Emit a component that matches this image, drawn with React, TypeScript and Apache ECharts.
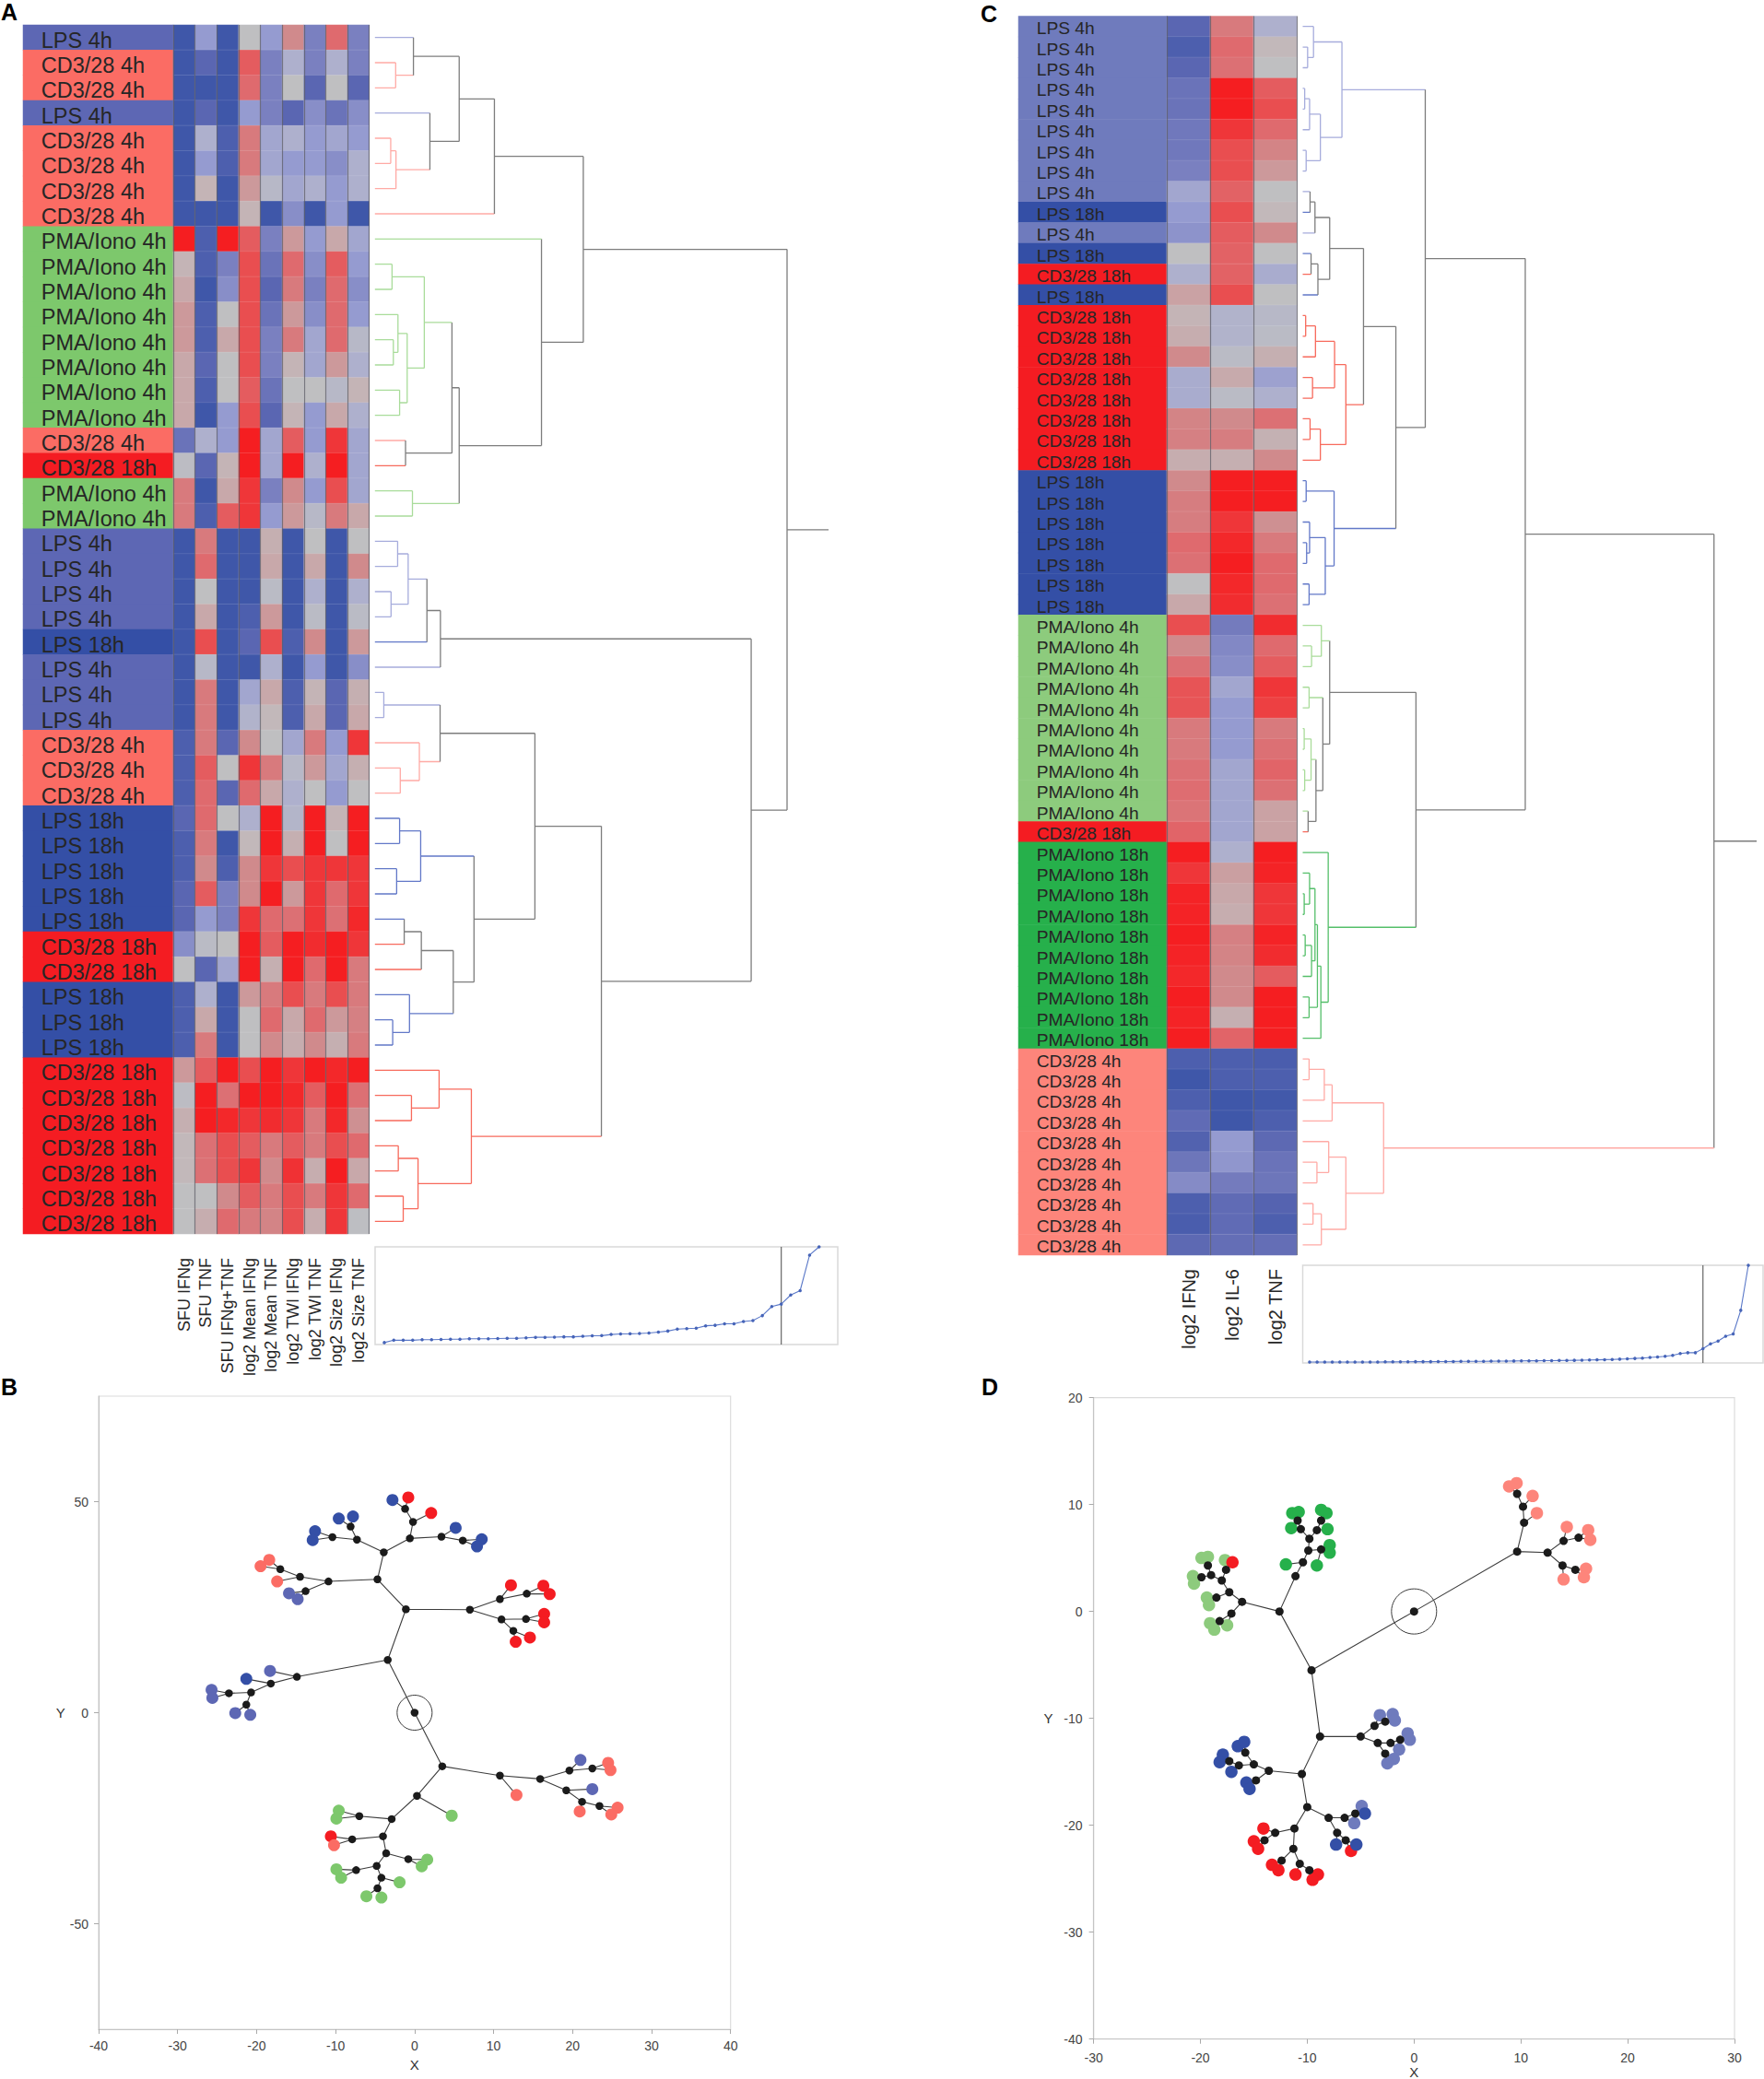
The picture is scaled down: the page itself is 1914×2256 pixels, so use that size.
import React, { useEffect, useRef } from "react";
import * as echarts from "echarts";

const FONT = "Liberation Sans";

const groupNames: Record<string, string> = {
  L4: "LPS 4h", L18: "LPS 18h", C4: "CD3/28 4h", C18: "CD3/28 18h", P4: "PMA/Iono 4h", P18: "PMA/Iono 18h",
};
const groupOrder = ["L4", "L18", "C4", "C18", "P4", "P18"];
const paletteAB: Record<string, string> = { L4: "#5d67b4", L18: "#344fa6", C4: "#fb6c64", C18: "#f41c22", P4: "#7dc86c", P18: "#2bb04c" };
const paletteCD: Record<string, string> = { L4: "#6f7bbd", L18: "#344fa6", C4: "#fd857b", C18: "#f41c22", P4: "#8dcb7d", P18: "#26b04b" };
const dendroColors: Record<string, string> = { L4: "#a6acdc", L18: "#6278c8", C4: "#ffaaa5", C18: "#f76a5c", P4: "#a9dc9a", P18: "#55bf6a", mix: "#7d7d7d" };
const heatColors = ["#3f57a9", "#5a66b2", "#7a80c0", "#959bd0", "#aeb0cd", "#bfbfc1", "#c8a8aa", "#d08a8c", "#df6a6e", "#e94e50", "#f51e21"];

const aColumns = ["SFU IFNg", "SFU TNF", "SFU IFNg+TNF", "log2 Mean IFNg", "log2 Mean TNF", "log2 TWI IFNg", "log2 TWI TNF", "log2 Size IFNg", "log2 Size TNF"];
const aRows = ["L4","C4","C4","L4","C4","C4","C4","C4","P4","P4","P4","P4","P4","P4","P4","P4","C4","C18","P4","P4","L4","L4","L4","L4","L18","L4","L4","L4","C4","C4","C4","L18","L18","L18","L18","L18","C18","C18","L18","L18","L18","C18","C18","C18","C18","C18","C18","C18"];
const aValues = [
  [-5,-2,-5,0,-2,2,-3,3,-3],
  [-5,-4,-5,3.5,-3,-1,-3,-1,-3],
  [-5,-5,-5,3,-3,0,-4,0,-4],
  [-5,-4,-5,-2,-3,-4,-2.5,-3.5,-2.5],
  [-5,-1,-4.5,2.5,-1.5,-1,-2,-1.5,-2],
  [-5,-2,-4.5,2.5,-1.5,-2,-2,-2.5,-1],
  [-5,0.5,-5,1.5,-0.5,-1.5,-1,-2,-1],
  [-5,-5,-5,0.5,-5,-2.5,-5,-2,-5],
  [5,-4.5,5,3.5,-3,1.5,-2,1,-1.5],
  [0.5,-4.5,-3,4,-3.5,3,-2.5,3.5,-2],
  [1,-5,-2.5,4,-4,2.5,-3,3,-2.5],
  [1.5,-4.5,0,4,-3.5,1.5,-2.5,3,-2],
  [1.5,-4.5,1,4,-3,2.5,-1.5,3,-0.5],
  [1,-4,0,4,-3,0.5,-1.5,1.5,-1],
  [1,-4.5,0,3.5,-3.5,0,0,-0.5,0.5],
  [1,-5,-2,4,-4,0.5,-2,1,-1],
  [-3.5,-1,-2,5,-1.5,3.5,-2,4.5,-1.5],
  [-0.2,-4,0.5,5,-1.5,5,-1,5,-1.5],
  [2.5,-5,1,4.5,-3,2,-2,4,-1.5],
  [2.5,-4.5,3.5,4.5,-2,1.5,-0.5,2.5,1],
  [-5,2.5,-5,-5,0.7,-5,0,-5,0],
  [-5,3,-5,-5,1,-5,1,-5,2],
  [-5,0,-5,-5,-0.3,-5,-1,-5,-1],
  [-5,1,-5,-4.5,1.5,-5,-0.3,-5,-0.3],
  [-5,4,-5,-4,4,-4.5,2,-5,1.5],
  [-5,-0.5,-5,-5,-1,-5,-2,-5,-2.5],
  [-5,2.5,-5,-1.5,1,-4.5,0.5,-4,0.7],
  [-5,2.5,-5,-0.8,0.3,-4.5,1,-4,1],
  [-4.5,2.5,-4,2,0,-1.5,2.5,-2,4.5],
  [-4.5,3.5,0,4.5,2.5,-0.5,1.5,-1.5,0.7],
  [-4.5,3,-4,3,1,-1,0,-2,0],
  [-4,3,0,-1,5,-0.7,5,0.5,5],
  [-4.5,2.5,-5,0.3,5,0.7,5,0,5],
  [-4.5,2,-4.5,2,4.5,4,4.5,4.5,4.5],
  [-4,3.5,-3,2,5,1.5,4.5,3,4.5],
  [-4,-2,-3,4.5,3,2.8,4.5,2.8,4.8],
  [-2.5,-0.3,0,5,3.5,5,4.7,5,4.5],
  [0,-4,-1.5,5,0.7,5,3,5,2.5],
  [-4.5,-1,-5,1.5,2.5,4,2.5,4,2.5],
  [-4.5,1,-5,0,3,1,3,1.5,2.3],
  [-4.5,2.5,-5,0,2,0.8,2,0.7,2.5],
  [1.5,3.5,5,4,5,4.5,5,4.8,5],
  [-0.2,5,2.8,5,5,4.8,3.5,5,2.8],
  [0.7,5,4.8,4.5,4.7,4.5,2.5,4.8,1.8],
  [0.3,2.8,4,3.5,2.5,3.5,2.5,4,3],
  [0.3,2.8,4,4.5,2,4.6,0.8,5,1],
  [0,0,2,3.5,2.5,4,2.5,4.5,3],
  [0,0.8,3,2.5,2.2,4,0.8,4.5,-0.1],
];

const cColumns = ["log2 IFNg", "log2 IL-6", "log2 TNF"];
const cRows = ["L4","L4","L4","L4","L4","L4","L4","L4","L4","L18","L4","L18","C18","L18","C18","C18","C18","C18","C18","C18","C18","C18","L18","L18","L18","L18","L18","L18","L18","P4","P4","P4","P4","P4","P4","P4","P4","P4","P4","C18","P18","P18","P18","P18","P18","P18","P18","P18","P18","P18","C4","C4","C4","C4","C4","C4","C4","C4","C4","C4"];
const cValues = [
  [-4,2.5,-1],[-4.5,3,0.3],[-4,2.8,0],[-3.5,5,3.5],[-3.5,5,4],[-3.3,4.5,3],[-3.3,4,2.2],[-3,4,1.5],[-1.5,3.3,0],[-2,4,0.3],
  [-2.3,3.5,2],[0,3.3,0],[-1,3.3,-1.2],[1.2,4,0],[0.5,-0.8,-0.5],[0.8,-0.8,-0.3],[2,-0.3,0.7],[-1.2,0.9,-1.7],[-1.2,-0.3,-1],[2.2,2,2.8],
  [2.3,2.4,0.6],[0.8,0.7,2],[2,5,5],[2.4,5,5],[2.4,4.5,1.8],[3,4.8,2.5],[2.8,5,3],[0,4.8,3],[1,4.7,2.8],[4,-3.2,4.7],
  [2,-2.7,3],[2.8,-2.5,3.5],[3.8,-1.5,4.5],[3.8,-2,4.3],[2.5,-2,2.5],[2.5,-2,2.8],[2.8,-1.5,3.2],[2.9,-1.5,2.8],[2.7,-1.5,1.2],[3.2,-1.5,1.2],
  [5,-1,5],[4.5,1.3,4.9],[4.9,1,4.5],[4.9,0.8,4.5],[5,2.3,4.9],[4.9,2.2,4.7],[4.8,2,3.5],[5,2,5],[4.9,0.7,5],[5,3.2,5],
  [-4.5,-4.5,-4.6],[-5,-4.5,-4.5],[-4.5,-5,-4.9],[-3.8,-5,-4.5],[-4.3,-2,-3.9],[-3.4,-2.2,-3.5],[-2.6,-3.2,-3.4],[-4.5,-3.8,-4.2],[-4.6,-3.8,-4.5],[-3.9,-3.7,-3.7],
];

// Dendrograms: a leaf is a row index, a join is [left, right, distance]
const aTree: any = [
  [
    [ [ [ 0, [1, 2, 138], 192 ], [ 3, [ [4, 5, 123], 6, 139 ], 242 ], 331 ], 7, 438 ],
    [ 8, [ [ [ [9, 10, 127], [ [11, [12, 13, 131], 145], [14, 15, 150], 173 ], 225 ], [16, 17, 168], 309 ], [18, 19, 189], 331 ], 581 ],
    708,
  ],
  [
    [ [ [ [20, 21, 144], [22, 23, 124], 176 ], 24, 233 ], 25, 274 ],
    [
      [
        [ [26, 27, 102], [28, [29, 30, 152], 210], 273 ],
        [ [ [31, 32, 150], [33, 34, 141], 214 ], [ [ [35, 36, 164], 37, 216 ], [38, [39, 40, 129], 180], 313 ], 376 ],
        561,
      ],
      [ [41, [42, 43, 186], 270], [ [44, 45, 146], [46, 47, 161], 206 ], 368 ],
      763,
    ],
    1218,
  ],
  1327,
];
const aTreeRange = [75, 1453];

const cTree: any = [
  [
    [
      [ [0, [1, 2, 637], 649], [ [ [3, 4, 631], 5, 641 ], [6, 7, 634], 663 ], 707 ],
      [
        [
          [ [ [8, 9, 642], 10, 652 ], [ [11, 12, 644], 13, 658 ], 682 ],
          [ [ [ [14, 15, 633], 16, 653 ], [17, 18, 647], 692 ], [ [19, 20, 642], 21, 663 ], 715 ],
          751,
        ],
        [ [22, 23, 634], [ [24, [25, 26, 635], 641], [27, 28, 640], 673 ], 691 ],
        817,
      ],
      877,
    ],
    [
      [
        [29, [30, 31, 645], 665],
        [ [32, 33, 640], [ [ [34, 35, 630], [36, 37, 631], 644 ], [38, 39, 638], 654 ], 668 ],
        682,
      ],
      [ 40, [ [ [ [41, [42, 43, 630], 641], [ [44, 45, 632], 46, 645 ], 652 ], [47, 48, 640], 657 ], 49, 664 ], 679 ],
      858,
    ],
    1081,
  ],
  [
    [ [ [50, 51, 640], 52, 671 ], 53, 687 ],
    [ [54, [55, 56, 656], 680], [ [57, 58, 648], 59, 665 ], 715 ],
    792,
  ],
  1466,
];
const cTreeRange = [627, 1553];

// Distance-by-step curves
const aCurve = [2,4.4,4.4,4.4,4.9,4.9,5.2,5.4,5.4,5.9,5.9,5.9,6.2,6.4,6.4,6.9,7.4,7.4,7.6,7.9,7.9,8.4,8.9,9.1,10.3,10.8,11,11.3,11.8,12.8,13.8,15.8,16.3,16.7,19.2,19.7,21.2,21.2,23.6,24.6,29.6,38.9,41.4,50.7,55.2,91.6,100,108];
const aCut = 42;
const aCurveRange = [-0.974, 47.98];
const cCurve = [0.9,0.9,0.9,0.9,0.9,0.9,0.9,1,1,1,1.1,1.1,1.2,1.2,1.3,1.3,1.3,1.4,1.4,1.5,1.6,1.6,1.7,1.7,1.8,1.9,1.9,2,2.1,2.2,2.2,2.3,2.4,2.5,2.6,2.7,2.8,3,3.2,3.4,3.6,3.9,4.2,4.6,5,5.6,6.2,6.8,7.8,9.6,10.5,10.5,14.6,19.6,22.4,27.4,29.7,53.9,100];
const cCut = 52;
const cCurveRange = [-0.907, 59.95];

// Constellation plots: [x, y, group] is a leaf, [x, y, [children]] is a join
const bTree: any = [0, 0, [
  [-3.4, 12.5, [
    [-1.1, 24.5, [
      [-4.7, 31.6, [
        [-3.9, 38, [
          [-7.3, 41, [
            [-8.1, 44.1, [[-9.6, 46, "L18"], [-7.8, 46.5, "L18"]]],
            [-10.4, 41.6, [[-12.6, 43, "L18"], [-12.9, 40.9, "L18"]]],
          ]],
          [-0.6, 41.3, [
            [-0.2, 45.2, [
              [-1.2, 48.3, [[-2.8, 50.4, "L18"], [-0.8, 51, "C18"]]],
              [2.1, 47.3, "C18"],
            ]],
            [3.4, 41.7, [
              [5.2, 43.8, "L18"],
              [6.1, 40.8, [[8.5, 41.1, "L18"], [7.9, 39.4, "L18"]]],
            ]],
          ]],
        ]],
        [-10.9, 31.1, [
          [-14.5, 32.2, [
            [-17, 34, [[-18.4, 36.2, "C4"], [-19.5, 34.7, "C4"]]],
            [-17.4, 31.1, "C4"],
          ]],
          [-13.8, 28.8, [[-15.9, 28.3, "L4"], [-14.8, 26.9, "L4"]]],
        ]],
      ]],
      [7, 24.4, [
        [10.8, 26.9, [
          [12.2, 30.2, "C18"],
          [14.2, 28.2, [[16.3, 30.1, "C18"], [17.1, 28.1, "C18"]]],
        ]],
        [11, 22.1, [
          [14.1, 22.2, [[16.4, 23.4, "C18"], [16.4, 21.4, "C18"]]],
          [12.5, 19.4, [[12.8, 16.8, "C18"], [14.6, 17.8, "C18"]]],
        ]],
      ]],
    ]],
    [-14.9, 8.5, [
      [-18.3, 9.9, "L4"],
      [-18.2, 6.9, [
        [-21.3, 8, "L18"],
        [-20.7, 4.8, [
          [-23.5, 4.6, [[-25.7, 5.4, "L4"], [-25.6, 3.5, "L4"]]],
          [-21.3, 1.9, [[-22.7, -0.1, "L4"], [-20.8, -0.5, "L4"]]],
        ]],
      ]],
    ]],
  ]],
  [3.5, -12.7, [
    [10.8, -14.9, [
      [12.9, -19.5, "C4"],
      [15.9, -15.7, [
        [19.6, -13.7, [
          [21, -11.2, "L4"],
          [22.5, -13.2, [[24.5, -11.9, "C4"], [24.8, -13.6, "C4"]]],
        ]],
        [19.2, -18.4, [
          [22.5, -18.1, "L4"],
          [21.2, -21.1, [
            [20.9, -23.4, "C4"],
            [23.4, -22.1, [[25.7, -22.5, "C4"], [24.9, -24.1, "C4"]]],
          ]],
        ]],
      ]],
    ]],
    [0.3, -19.7, [
      [4.7, -24.4, "P4"],
      [-2.9, -25.2, [
        [-7, -24.5, [[-9.6, -23.2, "P4"], [-9.9, -25.1, "P4"]]],
        [-4, -29.3, [
          [-7.9, -30, [[-10.6, -29.3, "C18"], [-10.2, -31.4, "C4"]]],
          [-3.6, -33.3, [
            [-0.8, -34.7, [[1.6, -34.8, "P4"], [0.9, -36.4, "P4"]]],
            [-4.8, -36.3, [
              [-7.4, -37.3, [[-9.9, -37.1, "P4"], [-9.3, -39.1, "P4"]]],
              [-4.2, -39.1, [
                [-1.9, -40.2, "P4"],
                [-4.7, -41.6, [[-6.1, -43.5, "P4"], [-4.2, -43.8, "P4"]]],
              ]],
            ]],
          ]],
        ]],
      ]],
    ]],
  ]],
]];

const dTree: any = [0, 0, [
  [9.65, 5.6, [
    [10.3, 8.3, [
      [11.5, 9.2, "C4"],
      [10.2, 9.8, [
        [11.1, 10.8, "C4"],
        [9.65, 11, [[8.9, 11.7, "C4"], [9.6, 12, "C4"]]],
      ]],
    ]],
    [12.5, 5.5, [
      [14, 6.6, [
        [14.3, 7.9, "C4"],
        [15.4, 6.9, [[16.3, 7.6, "C4"], [16.5, 6.7, "C4"]]],
      ]],
      [13.9, 4.3, [
        [14, 3, "C4"],
        [15.1, 3.9, [[16.1, 4, "C4"], [15.9, 3.2, "C4"]]],
      ]],
    ]],
  ]],
  [-9.6, -5.5, [
    [-12.6, 0, [
      [-11.1, 3.3, [
        [-10.4, 4.6, [
          [-12, 4.4, "P18"],
          [-9.9, 5.7, [
            [-8.7, 5.8, [[-9.1, 4.3, "P18"], [-7.9, 6.2, "P18"], [-7.9, 5.5, "P18"]]],
            [-9.8, 6.8, [
              [-10.6, 7.7, [
                [-11.5, 7.8, "P18"],
                [-10.9, 8.5, [[-11.4, 9.2, "P18"], [-10.8, 9.3, "P18"]]],
              ]],
              [-9.1, 7.6, [
                [-8.1, 7.7, "P18"],
                [-8.7, 8.5, [[-8.7, 9.5, "P18"], [-8.2, 9.2, "P18"]]],
              ]],
            ]],
          ]],
        ]],
      ]],
      [-16.1, 0.9, [
        [-17.3, 1.8, [
          [-18.5, 1.3, [[-19.4, 1.3, "P4"], [-19.2, 0.6, "P4"]]],
          [-18, 2.9, [
            [-17.6, 3.9, [[-17.7, 4.8, "P4"], [-17, 4.6, "C18"]]],
            [-19, 3.4, [
              [-19.3, 4.3, [[-19.9, 5, "P4"], [-19.3, 5.1, "P4"]]],
              [-19.9, 3.2, [[-20.7, 3.3, "P4"], [-20.6, 2.6, "P4"]]],
            ]],
          ]],
        ]],
        [-17.1, -0.2, [
          [-17.5, -1.3, "P4"],
          [-18.2, -0.9, [[-19.1, -1.1, "P4"], [-18.7, -1.7, "P4"]]],
        ]],
      ]],
    ]],
    [-8.8, -11.7, [
      [-5, -11.7, [
        [-3.7, -10.7, [
          [-3.2, -9.7, "L4"],
          [-2.7, -10.3, [[-2, -9.6, "L4"], [-1.8, -10.2, "L4"]]],
        ]],
        [-3.4, -12.3, [
          [-2.2, -12.3, [
            [-1.3, -12, [[-0.6, -11.4, "L4"], [-0.4, -12, "L4"]]],
            [-1.4, -12.9, "L4"],
          ]],
          [-2.7, -13.3, [[-1.9, -13.8, "L4"], [-2.5, -14.2, "L4"]]],
        ]],
      ]],
      [-10.5, -15.2, [
        [-13.6, -14.9, [
          [-15, -14.3, [
            [-16.4, -14.4, [
              [-17.3, -14, [[-17.9, -13.4, "L18"], [-18.2, -14.1, "L18"]]],
              [-17.1, -15, "L18"],
            ]],
            [-15.8, -13.2, [[-16.5, -12.6, "L18"], [-15.9, -12.2, "L18"]]],
          ]],
          [-14.8, -15.8, [[-15.7, -16, "L18"], [-15.4, -16.6, "L18"]]],
        ]],
        [-10, -18.3, [
          [-8, -19.3, [
            [-6.5, -19.3, [
              [-5.5, -18.9, [[-4.9, -18.2, "L4"], [-4.6, -18.9, "L18"]]],
              [-5.6, -19.8, "L4"],
            ]],
            [-7.2, -20.7, [
              [-7.3, -21.8, "L18"],
              [-6.4, -21.4, [[-5.4, -21.8, "L18"], [-5.9, -22.4, "C18"]]],
            ]],
          ]],
          [-11.2, -20.3, [
            [-13, -20.7, [
              [-14.1, -20.3, "C18"],
              [-14, -21.4, [[-15, -21.5, "C18"], [-14.6, -22.2, "C18"]]],
            ]],
            [-11.3, -22.2, [
              [-12.4, -23.3, [[-13.3, -23.7, "C18"], [-12.7, -24.2, "C18"]]],
              [-10.7, -23.6, [
                [-11.1, -24.6, "C18"],
                [-9.8, -24.2, [[-9, -24.6, "C18"], [-9.5, -25.1, "C18"]]],
              ]],
            ]],
          ]],
        ]],
      ]],
    ]],
  ]],
]];

const panelLetters = [
  { text: "A", x: 1, y: 0 },
  { text: "C", x: 1064, y: 2 },
  { text: "B", x: 1, y: 1492 },
  { text: "D", x: 1065, y: 1492 },
];

function buildOption() {
  const grid: any[] = [], xAxis: any[] = [], yAxis: any[] = [], series: any[] = [];
  const valueSeries: number[] = [];
  const labelMaps: any[] = [];

  const addGrid = (g: any, x: any, y: any) => {
    grid.push({ containLabel: false, outerBoundsMode: "none", ...g });
    const i = grid.length - 1;
    xAxis.push({ gridIndex: i, ...x });
    yAxis.push({ gridIndex: i, ...y });
    return i;
  };
  const hiddenValue = (min: number, max: number, inverse = false) => ({ type: "value", show: false, min, max, inverse, splitLine: { show: false } });

  const heatPanel = (
    rows: string[], values: number[][], columns: string[], palette: Record<string, string>,
    box: { left: number; labelRight: number; right: number; top: number; bottom: number },
    fontSize: number, labelGap: number, labelDrop: number, colFont: number, colMargin: number,
  ) => {
    const rowCats = rows.map((_, i) => String(i));
    const top = box.top, height = box.bottom - box.top;
    const g1 = addGrid(
      { left: box.left, top, width: box.labelRight - box.left, height },
      { type: "category", show: false, data: ["label"] },
      { type: "category", show: false, inverse: true, data: rowCats },
    );
    series.push({
      type: "heatmap", xAxisIndex: g1, yAxisIndex: g1, silent: true,
      label: { show: true, position: "insideLeft", distance: labelGap, offset: [0, labelDrop], color: "#262626", fontSize, fontFamily: FONT, formatter: (p: any) => p.name },
      data: rows.map((g, i) => ({ name: groupNames[g], value: [0, i, groupOrder.indexOf(g)] })),
    });
    labelMaps.push({
      type: "piecewise", show: false, dimension: 2, seriesIndex: [series.length - 1],
      pieces: groupOrder.map((g, i) => ({ value: i, color: palette[g] })),
    });
    const g2 = addGrid(
      { left: box.labelRight, top, width: box.right - box.labelRight, height },
      {
        type: "category", data: columns, z: 5,
        axisLine: { show: false }, axisTick: { show: false },
        axisLabel: { rotate: 90, interval: 0, margin: colMargin, fontSize: colFont, color: "#262626", fontFamily: FONT },
        splitLine: { show: true, interval: 0, lineStyle: { color: "#5f5f68", width: 1.2, opacity: 0.75 } },
      },
      { type: "category", show: false, inverse: true, data: rowCats },
    );
    const cells: number[][] = [];
    values.forEach((r, i) => r.forEach((v, j) => cells.push([j, i, v])));
    series.push({
      type: "heatmap", xAxisIndex: g2, yAxisIndex: g2, silent: true, data: cells,
      itemStyle: { borderColor: "rgba(255,255,255,0.18)", borderWidth: 0.6 },
    });
    valueSeries.push(series.length - 1);
  };

  const dendroPanel = (tree: any, rows: string[], range: number[], box: { left: number; right: number; top: number; bottom: number }) => {
    const g = addGrid(
      { left: box.left, top: box.top, width: box.right - box.left, height: box.bottom - box.top },
      hiddenValue(range[0], range[1]),
      hiddenValue(0, rows.length, true),
    );
    const segs: Record<string, any[]> = {};
    const seg = (k: string, a: number[], b: number[]) => { (segs[k] = segs[k] || []).push(a, b, ["-", "-"]); };
    const walk = (n: any): { x: number; y: number; k: string } => {
      if (typeof n === "number") return { x: range[0], y: n + 0.5, k: rows[n] };
      const a = walk(n[0]), b = walk(n[1]);
      const d = n[2];
      seg(a.k, [a.x, a.y], [d, a.y]);
      seg(b.k, [b.x, b.y], [d, b.y]);
      const k = a.k === b.k ? a.k : "mix";
      seg(k, [d, a.y], [d, b.y]);
      return { x: d, y: (a.y + b.y) / 2, k };
    };
    const root = walk(tree);
    seg("mix", [root.x, root.y], [range[1], root.y]);
    Object.keys(segs).forEach((k) => {
      series.push({
        type: "line", xAxisIndex: g, yAxisIndex: g, silent: true, symbol: "none", clip: false, connectNulls: false,
        lineStyle: { color: dendroColors[k], width: 1.3 }, data: segs[k],
      });
    });
  };

  const curvePanel = (values: number[], cut: number, range: number[], box: { left: number; right: number; top: number; bottom: number }) => {
    const g = addGrid(
      { left: box.left, top: box.top, width: box.right - box.left, height: box.bottom - box.top, show: true, borderColor: "#d9d9d9", borderWidth: 1.5 },
      hiddenValue(range[0], range[1]),
      hiddenValue(0, 100),
    );
    series.push({
      type: "line", xAxisIndex: g, yAxisIndex: g, silent: true, symbol: "none",
      lineStyle: { color: "#666", width: 1.2 }, data: [[cut, 0], [cut, 100]],
    });
    series.push({
      type: "line", xAxisIndex: g, yAxisIndex: g, silent: true, symbol: "circle", symbolSize: 3.5,
      itemStyle: { color: "#4664b8" }, lineStyle: { color: "#5a78c8", width: 1.1 },
      data: values.map((v, i) => [i, v]),
    });
  };

  const treePanel = (
    tree: any, palette: Record<string, string>, box: { left: number; right: number; top: number; bottom: number },
    xr: number[], yr: number[], yTicks: number[] | null, circle: number, leaf: number, inner: number,
    xMargin: number, xGap: number, yMargin: number, yGap: number,
  ) => {
    const axisCommon = {
      type: "value", splitLine: { show: false },
      axisLine: { show: true, onZero: false, lineStyle: { color: "#c4c4c4", width: 1.2 } },
      nameLocation: "middle", nameTextStyle: { color: "#333", fontSize: 15, fontFamily: FONT },
    };
    const labelStyle = { color: "#444", fontSize: 14, fontFamily: FONT };
    const g = addGrid(
      { left: box.left, top: box.top, width: box.right - box.left, height: box.bottom - box.top, show: true, borderColor: "#dcdcdc", borderWidth: 1.2 },
      { ...axisCommon, min: xr[0], max: xr[1], interval: 10, name: "X", nameGap: xGap,
        axisTick: { show: true, length: 5, lineStyle: { color: "#aaa" } }, axisLabel: { ...labelStyle, margin: xMargin } },
      { ...axisCommon, min: yr[0], max: yr[1], name: "Y", nameGap: yGap, nameRotate: 0,
        ...(yTicks ? {} : { interval: 10 }),
        axisTick: { show: true, length: 5, lineStyle: { color: "#aaa" }, ...(yTicks ? { customValues: yTicks } : {}) },
        axisLabel: { ...labelStyle, margin: yMargin, ...(yTicks ? { customValues: yTicks } : {}) } },
    );
    const edges: any[] = [], joins: number[][] = [];
    const leaves: Record<string, number[][]> = {};
    const walk = (n: any) => {
      const p = [n[0], n[1]];
      if (typeof n[2] === "string") { (leaves[n[2]] = leaves[n[2]] || []).push(p); return; }
      joins.push(p);
      n[2].forEach((c: any) => { edges.push(p, [c[0], c[1]], ["-", "-"]); walk(c); });
    };
    walk(tree);
    const base = { xAxisIndex: g, yAxisIndex: g, silent: true };
    series.push({ ...base, type: "line", symbol: "none", connectNulls: false, lineStyle: { color: "#3c3c3c", width: 1.1 }, data: edges, z: 2 });
    Object.keys(leaves).forEach((k) => {
      series.push({ ...base, type: "scatter", symbolSize: leaf, itemStyle: { color: palette[k], opacity: 1 }, data: leaves[k], z: 3 });
    });
    series.push({ ...base, type: "scatter", symbolSize: inner, itemStyle: { color: "#1b1b1b", opacity: 1 }, data: joins, z: 4 });
    series.push({ ...base, type: "scatter", symbolSize: circle, itemStyle: { color: "transparent", borderColor: "#3c3c3c", borderWidth: 1, opacity: 1 }, data: [[tree[0], tree[1]]], z: 4 });
  };

  heatPanel(aRows, aValues, aColumns, paletteAB, { left: 25, labelRight: 188, right: 400.7, top: 27, bottom: 1339 }, 23.5, 20, 3, 18, 26);
  dendroPanel(aTree, aRows, aTreeRange, { left: 406.8, right: 899, top: 27, bottom: 1339 });
  curvePanel(aCurve, aCut, aCurveRange, { left: 407, right: 909, top: 1353, bottom: 1459 });

  heatPanel(cRows, cValues, cColumns, paletteCD, { left: 1105, labelRight: 1266, right: 1407, top: 17.5, bottom: 1362 }, 19.2, 20, 2, 20, 15);
  dendroPanel(cTree, cRows, cTreeRange, { left: 1413.5, right: 1906, top: 17.5, bottom: 1362 });
  curvePanel(cCurve, cCut, cCurveRange, { left: 1413.5, right: 1913, top: 1373, bottom: 1479 });

  treePanel(bTree, paletteAB, { left: 107, right: 792.7, top: 1515, bottom: 2202 }, [-40, 40], [-75, 75], [-50, 0, 50], 38, 13, 8.5, 11, 31, 11, 36);
  treePanel(dTree, paletteCD, { left: 1186.6, right: 1882, top: 1516.6, bottom: 2212.7 }, [-30, 30], [-40, 20], null, 49, 13.5, 9, 13, 28, 12, 44);

  return {
    animation: false,
    backgroundColor: "#ffffff",
    textStyle: { fontFamily: FONT },
    grid, xAxis, yAxis, series,
    visualMap: [
      { type: "continuous", show: false, min: -5, max: 5, dimension: 2, seriesIndex: valueSeries, inRange: { color: heatColors } },
      ...labelMaps,
    ],
    graphic: panelLetters.map((l) => ({
      type: "text", x: l.x, y: l.y, silent: true,
      style: { text: l.text, fontSize: 25, fontWeight: "bold", fontFamily: FONT, fill: "#000" },
    })),
  };
}

export default function App() {
  const ref = useRef<HTMLDivElement>(null);
  useEffect(() => {
    const chart = echarts.init(ref.current!, undefined, { renderer: "svg" });
    chart.setOption(buildOption() as any);
    return () => chart.dispose();
  }, []);
  return <div ref={ref} style={{ position: "absolute", left: 0, top: 0, width: 1914, height: 2256 }} />;
}
